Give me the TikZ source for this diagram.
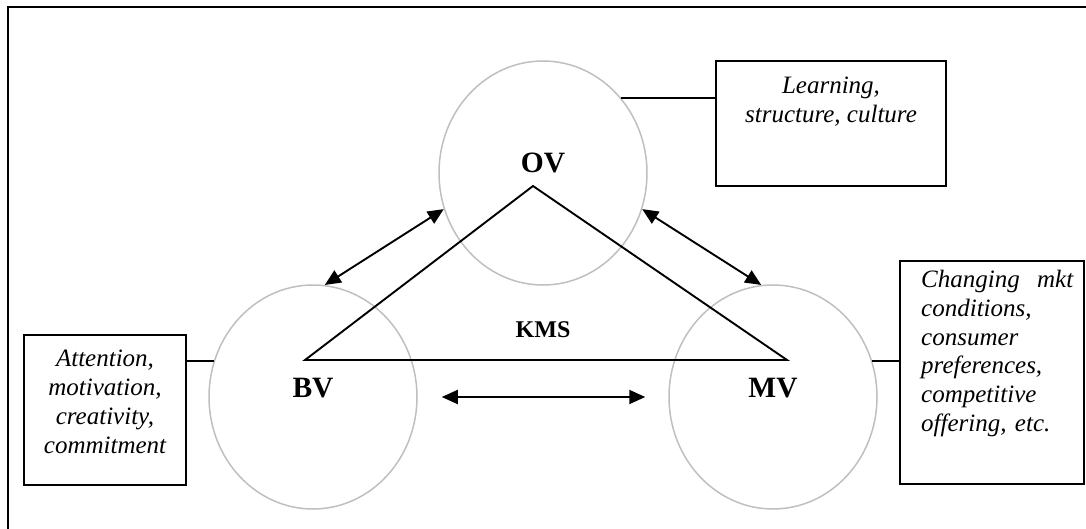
\documentclass[tikz,border=0pt]{standalone}
\usepackage{fontspec}
\setmainfont{Liberation Serif}
\usetikzlibrary{shapes.geometric,arrows.meta}
\begin{document}
\begin{tikzpicture}[x=1pt,y=-1pt,
  circ/.style={ellipse, draw=black!25, line width=1.5pt, minimum width=208pt, minimum height=224pt, inner sep=0pt},
  lbl/.style={font=\fontsize{29.5}{31}\selectfont\bfseries, anchor=base, inner sep=0pt},
  box/.style={draw, line width=2.2pt, inner sep=0pt},
  txt/.style={font=\fontsize{25}{28.8}\selectfont\itshape, inner sep=0pt, anchor=north},
  link/.style={line width=1.9pt},
  dbl/.style={line width=1.9pt, {Triangle[length=16pt,width=14pt]}-{Triangle[length=16pt,width=14pt]}}]
\useasboundingbox (0,0) rectangle (1086,529);
\draw[line width=2.4pt] (8,540) -- (8,7) -- (1095,7);

% circles
\node[circ] (OV) at (543,173) {};
\node[circ] (BV) at (313,397) {};
\node[circ] (MV) at (773,397) {};

% boxes
\node[box, minimum width=230pt, minimum height=125pt] (learn) at (831,123.5) {};
\node[box, minimum width=162pt, minimum height=150pt] (attn) at (105,410) {};
\node[box, minimum width=184pt, minimum height=223pt] (chg) at (992,372.5) {};

% box texts
\node[txt, align=center] (learnT) at (831,77) {Learning,\\structure, culture};
\node[txt, align=center] (attnT) at (105,350) {Attention,\\motivation,\\creativity,\\commitment};
\node[txt, align=left, text width=152pt, anchor=north west] (chgT) at (921,270) {Changing\hfill mkt\\conditions,\\consumer\\preferences,\\competitive\\offering, etc.};

% triangle
\coordinate (apex) at (533,186);
\coordinate (bl) at (305,360);
\coordinate (br) at (787,360);
\draw[link] (apex) -- (bl) -- (br) -- cycle;

% labels
\node[lbl] (ovL) at (543,172.5) {OV};
\node[lbl] (bvL) at (313,397) {BV};
\node[lbl] (mvL) at (773,397) {MV};
\node[lbl, font=\fontsize{24}{26}\selectfont\bfseries] (kms) at (543,337) {KMS};

% connectors to boxes
\draw[link] (OV.44) -- (OV.44 -| learn.west);
\draw[link] (BV.160) -- (BV.160 -| attn.east);
\draw[link] (MV.20) -- (MV.20 -| chg.west);

% double arrows
\draw[dbl] (BV.84) -- (OV.200);
\draw[dbl] (OV.340) -- (MV.96);
\draw[dbl, shorten <=24pt, shorten >=23pt] (BV.east) -- (MV.west);
\end{tikzpicture}
\end{document}
